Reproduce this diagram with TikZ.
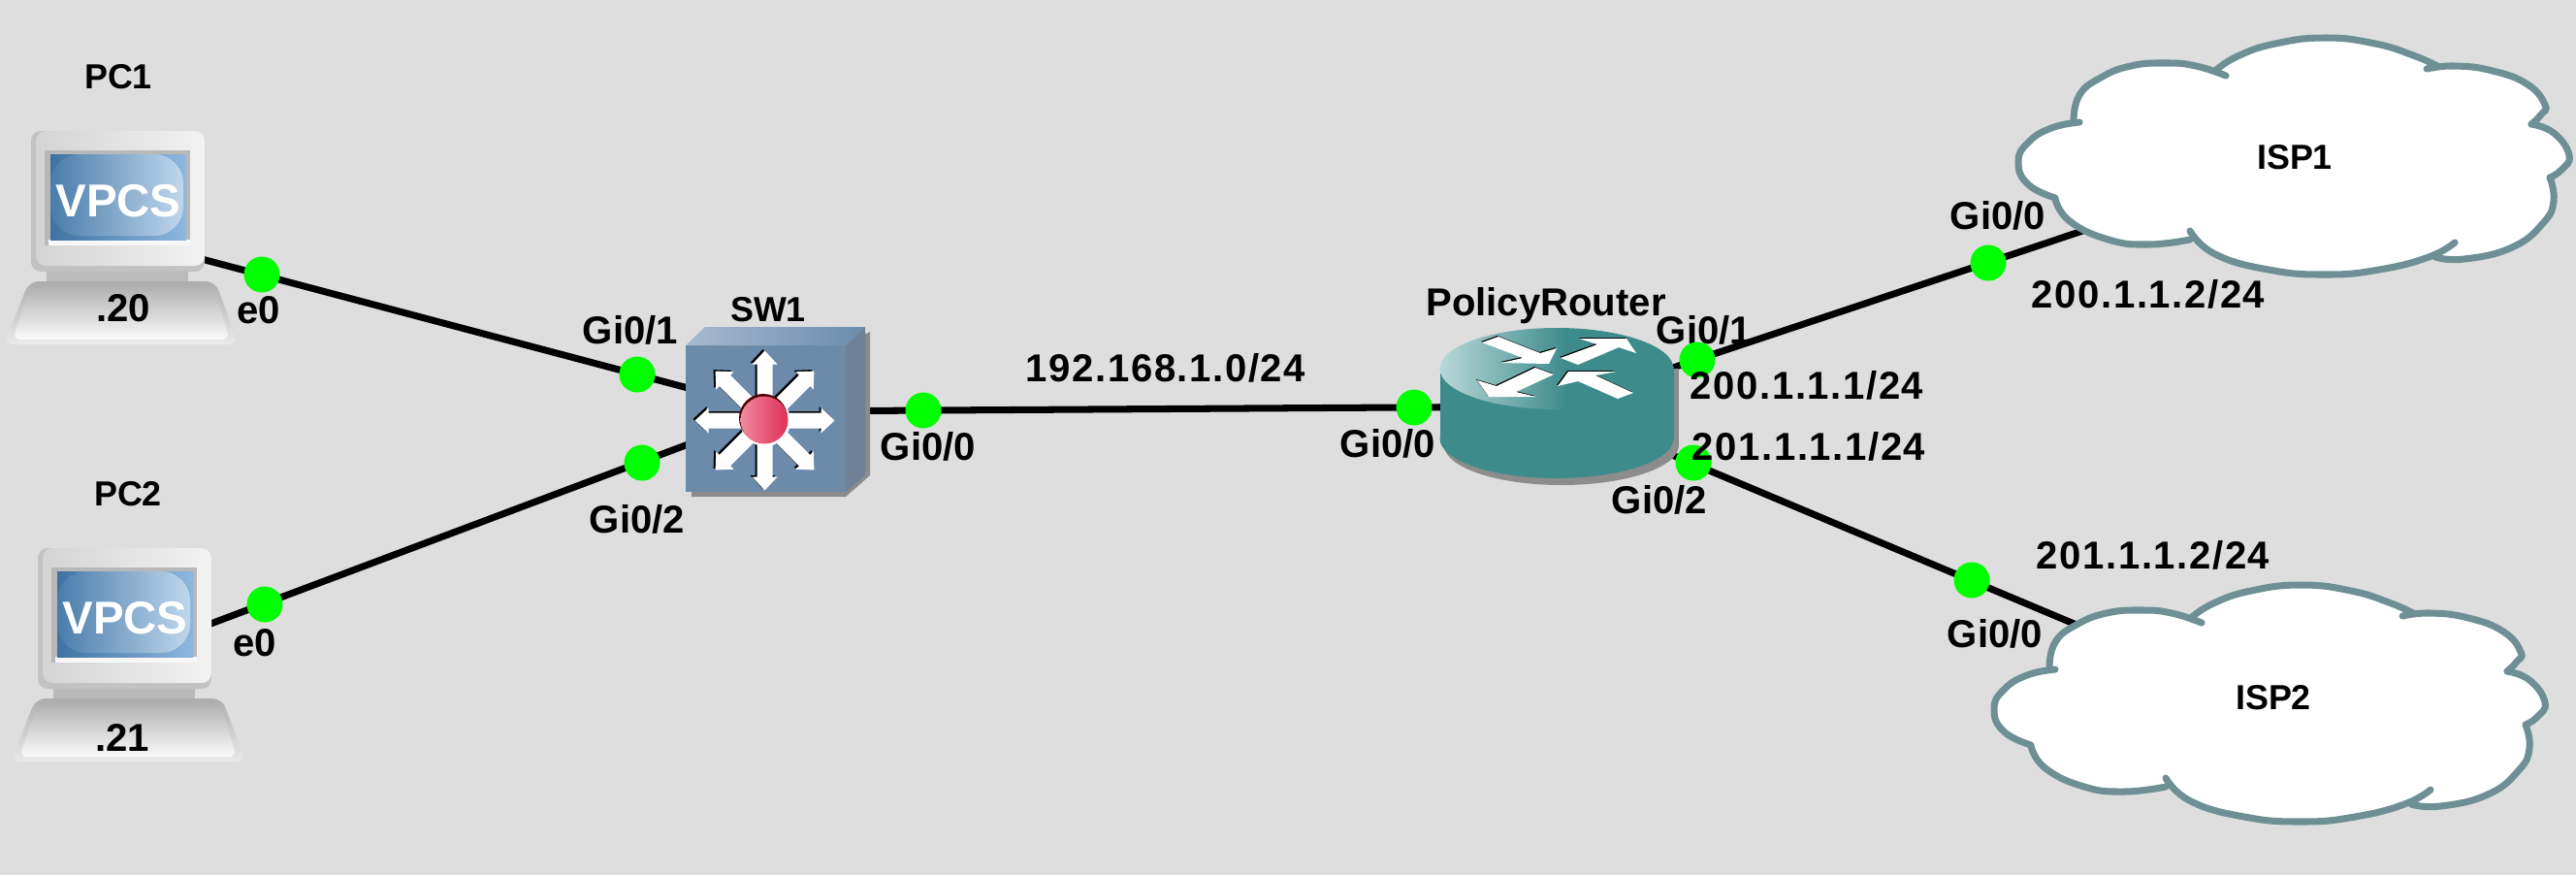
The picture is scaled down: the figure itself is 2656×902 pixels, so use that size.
\documentclass[tikz,border=0pt]{standalone}
\usepackage{xcolor}
\usepackage{fontspec}
\setmainfont{Liberation Sans}
\newfontfamily\ipfont[LetterSpace=4]{Liberation Sans}

\definecolor{canvas}{HTML}{DEDEDE}
\definecolor{cloudedge}{HTML}{6E9095}
\definecolor{routerteal}{HTML}{3E8B8C}
\definecolor{routerhigh}{HTML}{B8D8D8}
\definecolor{swfront}{HTML}{6C8BAB}
\definecolor{swtop}{HTML}{A7BAD0}
\definecolor{swside}{HTML}{6E8196}
\definecolor{shadowgrey}{HTML}{8C8C8C}
\definecolor{screenlow}{HTML}{3F72A3}
\definecolor{screenhigh}{HTML}{8DB7DE}
\definecolor{glosslow}{HTML}{4A7CAB}
\definecolor{glosshigh}{HTML}{BFD7EC}
\definecolor{ballhigh}{HTML}{F08A9F}
\definecolor{balllow}{HTML}{DF2F55}

\pgfdeclarehorizontalshading{routertop}{100bp}{color(0bp)=(routerhigh); color(25bp)=(routerhigh); color(52bp)=(routerteal); color(100bp)=(routerteal)}

\newcommand{\cloudlobes}[1]{%
  #1{(2138,124) (2144,98) (2166,80) (2197,68) (2233,65) (2264,68) (2295,78)}%
  #1{(2284,73) (2307,58) (2346,45) (2398,39) (2449,45) (2488,57) (2513,68)}%
  #1{(2502,71) (2531,68) (2570,73) (2606,87) (2624,108) (2620,118) (2610,128)}%
  #1{(2610,128) (2633,137) (2649,160) (2641,175) (2629,183)}%
  #1{(2629,183) (2633,207) (2622,230) (2590,255) (2541,267) (2511,265)}%
  #1{(2531,250) (2504,265) (2453,278) (2398,283) (2339,278) (2284,262) (2258,238)}%
  #1{(2258,247) (2215,252) (2174,247) (2134,228) (2119,205)}%
  #1{(2119,204) (2091,190) (2081,167) (2091,147) (2115,132) (2144,126)}%
}
\newcommand{\lobefill}[1]{\path[fill=white, draw=white, line width=1pt] plot[smooth, tension=.8] coordinates {#1} -- (2366,165) -- cycle;}
\newcommand{\lobedraw}[1]{\draw[lobe] plot[smooth, tension=.8] coordinates {#1};}

\tikzset{
  hub/.style={inner sep=0pt, minimum size=0pt},
  link/.style={line width=2pt},
  dot/.style={circle, fill=green, inner sep=0pt, minimum size=.37cm},
  txt/.style={font=\fontsize{11.4}{13}\selectfont\bfseries, inner sep=0pt},
  iptxt/.style={font=\fontsize{11.4}{13}\selectfont\ipfont\bfseries, inner sep=0pt},
  tag/.style={font=\fontsize{10.2}{12}\selectfont\bfseries, inner sep=0pt},
  lobe/.style={draw=cloudedge, line width=2pt, line cap=round},
  spoke/.style={fill=white},
  vpcs/.pic={
    % Monitor
    \fill[rounded corners=.1cm, black!24] (-93,-110) rectangle (86,35);
    \shade[rounded corners=.1cm, shading angle=60, left color=black!17, right color=black!5] (-88,-110) rectangle (86,29);
    \fill[black!28] (-79,-90) rectangle (71,8);
    \fill[black!3] (-75,2) rectangle (71,8);
    \shade[shading angle=60, left color=screenlow, right color=screenhigh] (-73,-86) rectangle (67,2);
    \shade[rounded corners=.3cm, shading angle=60, left color=glosslow, middle color=glosslow, right color=glosshigh] (-73,-86) rectangle (64,-2);
    \node[font=\fontsize{13.5}{15}\selectfont\bfseries, text=white, inner sep=0pt] (vpcstext) at (-3,-38) {VPCS};
    % Stand
    \fill[black!27] (-77,35) rectangle (69,45);
    \shade[rounded corners=.1cm, top color=black!32, bottom color=black!8] (-95,45) -- (97,45) -- (121,110) -- (-121,110) -- cycle;
    \shade[rounded corners=.08cm, top color=black!32, bottom color=black!2] (-92,48) -- (94,48) -- (112,105) -- (-112,105) -- cycle;
  },
  ispcloud/.pic={
    \cloudlobes\lobefill
    \cloudlobes\lobedraw
  }
}

\begin{document}
\begin{tikzpicture}[x=.01cm, y=-.01cm]
  \useasboundingbox (0,0) rectangle (2656,902);
  \fill[canvas] (0,0) rectangle (2656,902);

  % Nodes
  \node[hub] (pc1) at (125,245) {};
  \node[hub] (pc2) at (132,675) {};
  \node[hub] (sw1) at (800,424) {};
  \node[hub] (router) at (1605,419) {};
  \node[hub] (isp1) at (2366,165) {};
  \node[hub] (isp2) at (2341,728) {};

  % Edges
  \draw[link] (pc1) -- (sw1);
  \draw[link] (pc2) -- (sw1);
  \draw[link] (sw1) -- (router);
  \draw[link] (router) -- (isp1);
  \draw[link] (router) -- (isp2);

  % Hosts and clouds
  \pic at (125,245) {vpcs};
  \pic at (132,675) {vpcs};
  \pic at (0,0) {ispcloud};
  \pic at (-25,564) {ispcloud};

  % Switch
  \fill[shadowgrey] (897,342) -- (897,490) -- (872,512) -- (713,512) -- (713,500) -- (880,350) -- cycle;
  \fill[swfront] (707,356) rectangle (872,507);
  \shade[left color=swtop, right color=swfront] (707,356) -- (727,337) -- (892,337) -- (872,356) -- cycle;
  \fill[swside] (872,356) -- (892,337) -- (892,490) -- (872,507) -- cycle;
  \foreach \ang in {0,45,...,315} {
    \begin{scope}[shift={(786.5,432)}, rotate=\ang]
      \fill[black] (0,-8) -- (58,-8) -- (58,-13) -- (72,0) -- (58,13) -- (58,8) -- (0,8) -- cycle;
    \end{scope}
  }
  \foreach \ang in {0,45,...,315} {
    \begin{scope}[shift={(788.5,433.5)}, rotate=\ang]
      \fill[spoke] (0,-8) -- (58,-8) -- (58,-13) -- (72,0) -- (58,13) -- (58,8) -- (0,8) -- cycle;
    \end{scope}
  }
  \fill[white] (789,434) circle [radius=26];
  \fill[black!70!red] (787,431) circle [radius=25];
  \shade[shading angle=45, left color=ballhigh, right color=balllow] (788,433) circle [radius=24.5];

  % Router
  \fill[shadowgrey] (1610,459) ellipse [x radius=121, y radius=41];
  \fill[shadowgrey] (1610,380) rectangle (1731,459);
  \fill[routerteal] (1605,452) ellipse [x radius=120.5, y radius=41];
  \fill[routerteal] (1485,380) rectangle (1726,452);
  \shade[shading=routertop] (1605,380) ellipse [x radius=120.5, y radius=42];
  \fill[black] (1527,352) -- (1544,346) -- (1587,363) -- (1604,358) -- (1596,374) -- (1547,373) -- (1569,368) -- cycle;
  \fill[black] (1608,368) -- (1646,354) -- (1627,348) -- (1676,348) -- (1686,363) -- (1668,357) -- (1626,375) -- cycle;
  \fill[black] (1522,391) -- (1542,397) -- (1582,378) -- (1601,385) -- (1562,403) -- (1583,408) -- (1534,408) -- cycle;
  \fill[black] (1605,397) -- (1616,382) -- (1666,382) -- (1644,386) -- (1683,404) -- (1667,410) -- (1626,392) -- cycle;
  \fill[white] (1528,353) -- (1545,347) -- (1588,364) -- (1605,359) -- (1597,375) -- (1548,374) -- (1570,369) -- cycle;
  \fill[white] (1609,369) -- (1647,355) -- (1628,349) -- (1677,349) -- (1687,364) -- (1669,358) -- (1627,376) -- cycle;
  \fill[white] (1523,392) -- (1543,398) -- (1583,379) -- (1602,386) -- (1563,404) -- (1584,409) -- (1535,409) -- cycle;
  \fill[white] (1606,398) -- (1617,383) -- (1667,383) -- (1645,387) -- (1684,405) -- (1668,411) -- (1627,393) -- cycle;

  % Labels under the dots
  \node[txt] (rtr_name) at (1594,315) {PolicyRouter};
  \node[txt] (rtr_g1) at (1757,340) {Gi0/1};

  % Port dots
  \node[dot] (d_pc1) at (270,283) {};
  \node[dot] (d_pc2) at (273,623) {};
  \node[dot] (d_sw1) at (657,386) {};
  \node[dot] (d_sw2) at (662,477) {};
  \node[dot] (d_sw0) at (952,423) {};
  \node[dot] (d_rtr0) at (1458,420) {};
  \node[dot] (d_rtr1) at (1750,371) {};
  \node[dot] (d_rtr2) at (1746,477) {};
  \node[dot] (d_isp1) at (2050,271) {};
  \node[dot] (d_isp2) at (2033,598) {};

  % Labels
  \node[tag] (pc1_name) at (122,79) {PC1};
  \node[tag] (pc2_name) at (132,509) {PC2};
  \node[txt] (pc1_ip) at (127,318) {.20};
  \node[txt] (pc2_ip) at (126,760) {.21};
  \node[txt] (pc1_e0) at (267,320) {e0};
  \node[txt] (pc2_e0) at (263,663) {e0};
  \node[txt] (sw_g1) at (650,340) {Gi0/1};
  \node[txt] (sw_g2) at (657,535) {Gi0/2};
  \node[tag] (sw_name) at (792,319) {SW1};
  \node[txt] (sw_g0) at (957,460) {Gi0/0};
  \node[iptxt] (lan_ip) at (1202,379) {192.168.1.0/24};
  \node[txt] (rtr_g0) at (1431,457) {Gi0/0};
  \node[iptxt] (rtr_ip1) at (1863,397) {200.1.1.1/24};
  \node[iptxt] (rtr_ip2) at (1865,460) {201.1.1.1/24};
  \node[txt] (rtr_g2) at (1711,515) {Gi0/2};
  \node[txt] (isp1_g0) at (2060,222) {Gi0/0};
  \node[txt] (isp2_g0) at (2057,653) {Gi0/0};
  \node[iptxt] (isp1_ip) at (2215,303) {200.1.1.2/24};
  \node[iptxt] (isp2_ip) at (2220,572) {201.1.1.2/24};
  \node[tag] (isp1_name) at (2366,162) {ISP1};
  \node[tag] (isp2_name) at (2344,719) {ISP2};
\end{tikzpicture}
\end{document}
